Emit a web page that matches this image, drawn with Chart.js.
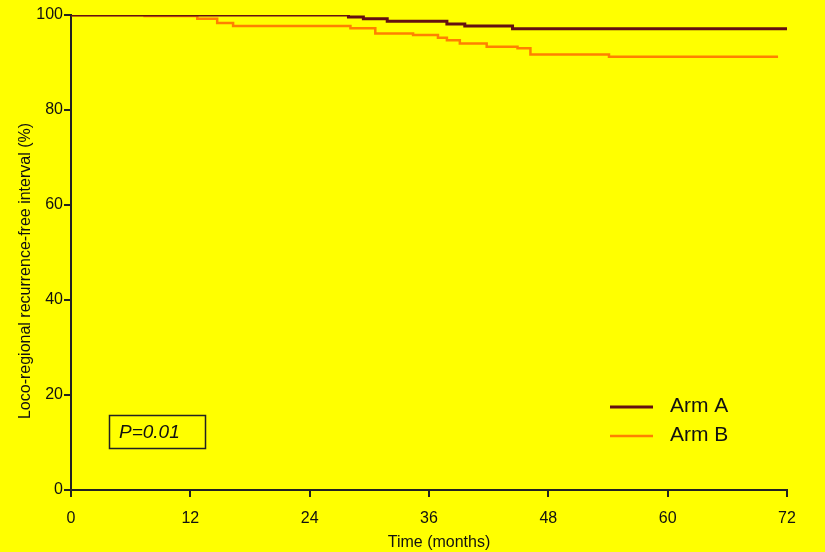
<!DOCTYPE html>
<html lang="en">
<head>
  <meta charset="UTF-8" />
  <title>Loco-regional recurrence-free interval</title>
  <script src="https://cdn.jsdelivr.net/npm/chart.js"></script>
  <style>
    body {
      margin: 0;
      background: #ffff00;
    }
    .wrap {
      width: 825px;
      height: 552px;
      position: relative;
    }
  </style>
</head>
<body>
  <div class="wrap">
    <canvas id="kmChart"></canvas>
  </div>

  <script>
    // time points (months) and survival (%)
    const armATime = [0, 27.9, 29.4, 31.8, 37.8, 39.6, 44.4, 72];
    const armAValues = [100, 99.6, 99.2, 98.7, 98.1, 97.7, 97.1, 97.1];

    const armBTime = [0, 7.4, 12.7, 14.7, 16.3, 28.1, 30.6, 34.4, 36.9, 37.8, 39.1, 41.8, 44.9, 46.2, 54.1, 71.1];
    const armBValues = [100, 99.8, 99.2, 98.3, 97.7, 97.2, 96.1, 95.8, 95.2, 94.7, 94.0, 93.3, 93.0, 91.7, 91.2, 91.2];

    const seriesLabels = ["Arm A", "Arm B"];
    const pValue = "P=0.01";

    const colorA = "#641010";
    const colorB = "#ff8000";
    const axisColor = "#222";
    const fontFamily = "'Liberation Sans', Arial, sans-serif";

    function toPoints(xs, ys) {
      return xs.map((x, i) => ({ x: x, y: ys[i] }));
    }

    const backdrop = {
      id: "backdrop",
      beforeDraw(chart) {
        const ctx = chart.ctx;
        ctx.save();
        ctx.fillStyle = "#ffff00";
        ctx.fillRect(0, 0, chart.width, chart.height);
        ctx.restore();
      }
    };

    // titles, legend and p-value box
    const extras = {
      id: "extras",
      afterDraw(chart) {
        const ctx = chart.ctx;
        ctx.save();
        ctx.fillStyle = "#111";

        // axis titles
        ctx.font = "16px " + fontFamily;
        ctx.textAlign = "center";
        ctx.textBaseline = "middle";
        ctx.fillText("Time (months)", 439, 543);
        ctx.save();
        ctx.translate(26, 271);
        ctx.rotate(-Math.PI / 2);
        ctx.fillText("Loco-regional recurrence-free interval (%)", 0, 0);
        ctx.restore();

        // legend
        const cols = [colorA, colorB];
        const widths = [3, 2.5];
        ctx.font = "21px " + fontFamily;
        ctx.textAlign = "left";
        seriesLabels.forEach((lab, i) => {
          const y = 407 + i * 29;
          ctx.strokeStyle = cols[i];
          ctx.lineWidth = widths[i];
          ctx.beginPath();
          ctx.moveTo(610, y);
          ctx.lineTo(653, y);
          ctx.stroke();
          ctx.fillStyle = "#111";
          ctx.fillText(lab, 670, y - 1);
        });

        // p-value box
        ctx.strokeStyle = axisColor;
        ctx.lineWidth = 1.5;
        ctx.strokeRect(109.5, 415.5, 96, 33);
        ctx.font = "italic 19px " + fontFamily;
        ctx.fillText(pValue, 119, 433);

        ctx.restore();
      }
    };

    new Chart(document.getElementById("kmChart"), {
      type: "line",
      data: {
        datasets: [
          {
            label: seriesLabels[0],
            data: toPoints(armATime, armAValues),
            borderColor: colorA,
            borderWidth: 3,
            stepped: true,
            pointRadius: 0,
            fill: false
          },
          {
            label: seriesLabels[1],
            data: toPoints(armBTime, armBValues),
            borderColor: colorB,
            borderWidth: 2.5,
            stepped: true,
            pointRadius: 0,
            fill: false
          }
        ]
      },
      options: {
        responsive: true,
        maintainAspectRatio: false,
        animation: false,
        layout: { padding: { top: 15, right: 38, left: 0, bottom: 0 } },
        plugins: {
          legend: { display: false },
          tooltip: { enabled: false }
        },
        scales: {
          x: {
            type: "linear",
            min: 0,
            max: 72,
            afterFit(scale) { scale.height = 62; },
            border: { display: true, color: axisColor, width: 2 },
            grid: { drawOnChartArea: false, drawTicks: true, tickLength: 7, color: axisColor, lineWidth: 2 },
            ticks: { stepSize: 12, padding: 12, color: "#111", font: { family: fontFamily, size: 16 } }
          },
          y: {
            min: 0,
            max: 100,
            afterFit(scale) { scale.width = 71; },
            border: { display: true, color: axisColor, width: 2 },
            grid: { drawOnChartArea: false, drawTicks: true, tickLength: 7, color: axisColor, lineWidth: 2 },
            ticks: { stepSize: 20, padding: 1, color: "#111", font: { family: fontFamily, size: 16 } }
          }
        }
      },
      plugins: [backdrop, extras]
    });
  </script>
</body>
</html>
